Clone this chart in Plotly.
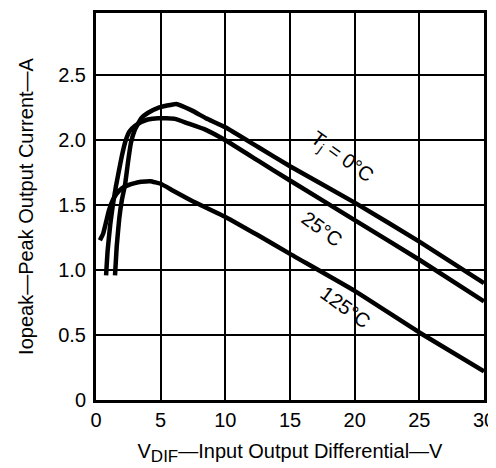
import plotly.graph_objects as go

# Tj = 0°C
x_0c = [1.47, 1.6, 1.8, 2.0, 2.25, 2.5, 2.7, 3.0, 3.5, 4.0, 4.8, 6.2, 7.4, 8.5, 10, 12.5, 15, 20, 25, 30]
y_0c = [0.96, 1.18, 1.40, 1.54, 1.66, 1.85, 1.98, 2.08, 2.17, 2.21, 2.25, 2.28, 2.23, 2.17, 2.10, 1.95, 1.80, 1.52, 1.22, 0.90]

# Tj = 25°C
x_25c = [0.78, 0.9, 1.1, 1.3, 1.55, 1.8, 2.0, 2.3, 2.6, 3.0, 3.5, 4.0, 4.8, 6.1, 7.1, 8.5, 10, 12.5, 15, 20, 25, 30]
y_25c = [0.96, 1.15, 1.35, 1.50, 1.65, 1.78, 1.88, 2.00, 2.07, 2.11, 2.14, 2.16, 2.17, 2.165, 2.13, 2.08, 2.00, 1.845, 1.69, 1.385, 1.08, 0.76]

# Tj = 125°C
x_125c = [0.3, 0.55, 0.8, 1.0, 1.3, 1.6, 2.0, 2.5, 3.0, 3.5, 4.2, 5.0, 6.0, 7.4, 10, 12.5, 15, 20, 25, 30]
y_125c = [1.23, 1.28, 1.38, 1.46, 1.54, 1.59, 1.63, 1.655, 1.67, 1.68, 1.685, 1.665, 1.61, 1.535, 1.41, 1.27, 1.125, 0.84, 0.52, 0.22]

x_ticks = [0, 5, 10, 15, 20, 25, 30]
y_ticks = [0, 0.5, 1.0, 1.5, 2.0, 2.5]
y_ticktext = ["0", "0.5", "1.0", "1.5", "2.0", "2.5"]

FONT = "Liberation Sans, Arial, sans-serif"
tick_font = dict(family=FONT, size=20, color="black")

fig = go.Figure()
for xs, ys in [(x_0c, y_0c), (x_25c, y_25c), (x_125c, y_125c)]:
    fig.add_trace(go.Scatter(x=xs, y=ys, mode="lines",
                             line=dict(color="black", width=4.5, shape="spline", smoothing=0.35),
                             hoverinfo="skip", showlegend=False))

# curve labels
labels = [
    (19.0, 1.87, "T<sub>j</sub> = 0°C"),
    (17.5, 1.32, "25°C"),
    (19.3, 0.72, "125°C"),
]
for lx, ly, txt in labels:
    fig.add_annotation(x=lx, y=ly, text=txt, showarrow=False, textangle=36,
                       font=dict(family=FONT, size=20, color="black"))

fig.update_layout(
    template="none",
    width=496, height=468,
    margin=dict(l=88, r=20, t=5, b=76),
    plot_bgcolor="white", paper_bgcolor="white",
    xaxis=dict(range=[0, 30], tickmode="array", tickvals=x_ticks,
               showgrid=True, gridcolor="#000000", gridwidth=1.5,
               showline=True, linecolor="#000000", linewidth=3, mirror=True,
               ticks="", zeroline=False, automargin=False, tickfont=tick_font,
               title=dict(text="V<sub><span style='font-size:17px'>DIF</span></sub>—Input Output Differential—V",
                          standoff=14, font=tick_font)),
    yaxis=dict(range=[0, 2.98], tickmode="array", tickvals=y_ticks, ticktext=y_ticktext,
               showgrid=True, gridcolor="#000000", gridwidth=1.5,
               showline=True, linecolor="#000000", linewidth=3, mirror=True,
               ticks="", zeroline=False, automargin=False, tickfont=tick_font,
               ticklabelstandoff=3,
               title=dict(text="Iopeak—Peak Output Current—A", standoff=20,
                          font=tick_font)),
)

fig.write_html("out.html")
